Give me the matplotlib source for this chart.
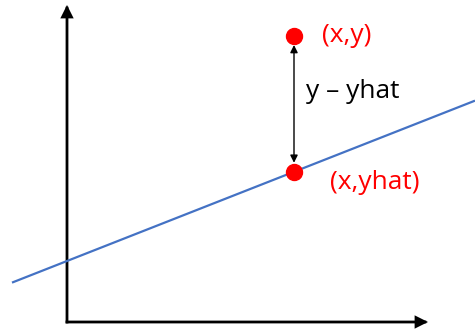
import matplotlib

matplotlib.use("Agg")
import matplotlib.pyplot as plt  # noqa: E402
from matplotlib.patches import FancyArrowPatch  # noqa: E402

# Data (units: axis origin at 0,0)
x_obs = 227
y_obs = 286
intercept = 61
slope = 0.393
line_x = [-55, 408]
labels = ["(x,y)", "y \u2013 yhat", "(x,yhat)"]

y_hat = intercept + slope * x_obs
line_y = [intercept + slope * v for v in line_x]

fig = plt.figure(figsize=(4.75, 3.3), dpi=100)
ax = fig.add_axes([0, 0, 1, 1])
ax.set_xlim(-67, 408)
ax.set_ylim(-8, 322)
ax.axis("off")

# axes with arrows
for end in [(0, 317), (361, 0)]:
    ax.add_patch(FancyArrowPatch((0, 0), end, arrowstyle="-|>", mutation_scale=16,
                                 color="black", lw=2, shrinkA=0, shrinkB=0,
                                 capstyle="projecting", joinstyle="miter"))

# regression line
ax.plot(line_x, line_y, color="#4472C4", lw=1.6, solid_capstyle="butt")

# residual arrow
ax.add_patch(FancyArrowPatch((x_obs, y_obs - 9), (x_obs, y_hat + 9), arrowstyle="<|-|>",
                             mutation_scale=11, color="black", lw=1.0, shrinkA=0, shrinkB=0))

# points
ax.plot([x_obs, x_obs], [y_obs, y_hat], "o", color="#FF0000", markersize=11.5, zorder=5)

font = ["Open Sans", "DejaVu Sans"]
ax.text(x_obs + 28, y_obs, labels[0], color="#FF0000", fontsize=19, va="center", family=font)
ax.text(x_obs + 12, (y_obs + y_hat) / 2 + 12, labels[1], color="black", fontsize=19,
        va="center", family=font)
ax.text(x_obs + 36, y_hat - 11, labels[2], color="#FF0000", fontsize=19, va="center", family=font)

fig.savefig("out.png", dpi=100)
